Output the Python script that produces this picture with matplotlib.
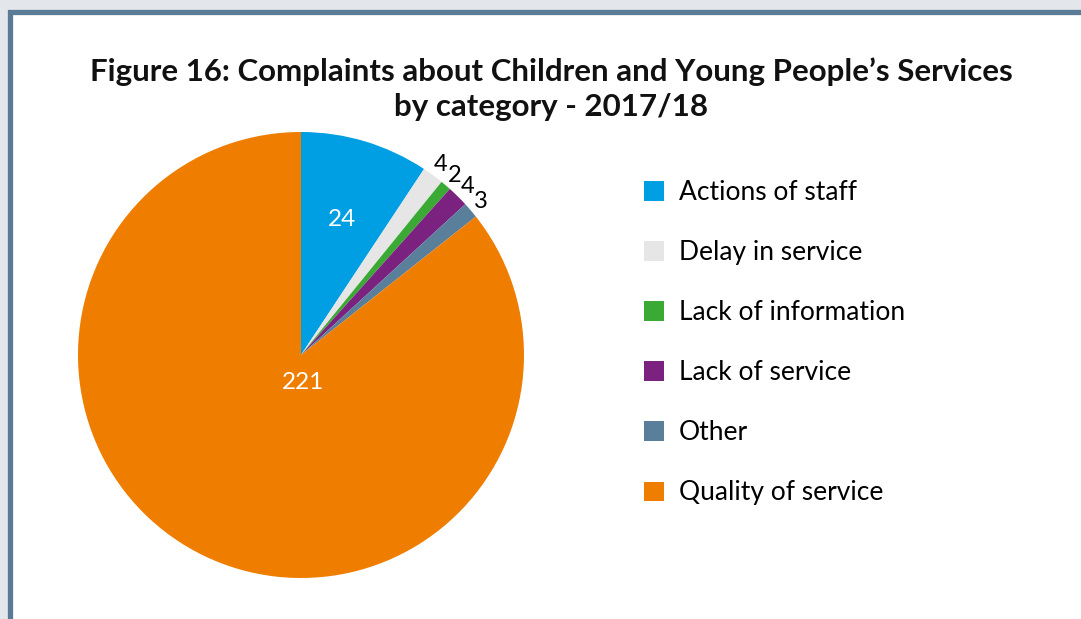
import matplotlib
matplotlib.use("Agg")
import matplotlib.pyplot as plt
from matplotlib.patches import Rectangle
import numpy as np

categories = ["Actions of staff", "Delay in service", "Lack of information",
              "Lack of service", "Other", "Quality of service"]
counts = [24, 4, 2, 4, 3, 221]
colours = ["#009fe3", "#e6e6e6", "#3aaa35", "#7b2281", "#5a7f9b", "#ef7d00"]

plt.rcParams["font.family"] = ["Lato", "DejaVu Sans"]

W, H = 1081, 619
fig = plt.figure(figsize=(W / 100, H / 100), dpi=100)
fig.patch.set_facecolor("#e3e6eb")

# white panel with the blue-grey frame
fig.add_artist(Rectangle((10 / W, -0.5), 2, 1.5 - 12 / H, transform=fig.transFigure,
                         facecolor="white", edgecolor="#5a7b95", linewidth=3.8, zorder=0))

fig.text(551 / W, 1 - 72 / H, "Figure 16: Complaints about Children and Young People\u2019s Services",
         ha="center", va="center", fontsize=22.5, fontweight="bold", color="#111111")
fig.text(551 / W, 1 - 107 / H, "by category - 2017/18",
         ha="center", va="center", fontsize=22.5, fontweight="bold", color="#111111")

cx, cy, r = 301, H - 355, 223
ax = fig.add_axes([(cx - r) / W, (cy - r) / H, 2 * r / W, 2 * r / H])

small = [str(c) if c < 20 else "" for c in counts]
wedges, texts = ax.pie(counts, colors=colours, startangle=90, counterclock=False,
                       labels=small, labeldistance=1.06,
                       wedgeprops=dict(linewidth=0),
                       textprops=dict(fontsize=17, color="black"))
for t in texts:
    t.set_ha("center")
    t.set_va("center")

# values printed inside the two big slices
w0 = wedges[0]
mid = np.deg2rad((w0.theta1 + w0.theta2) / 2)
ax.text(0.635 * np.cos(mid), 0.635 * np.sin(mid), str(counts[0]),
        ha="center", va="center", fontsize=17.5, color="white")
ax.text(0.01, -0.125, str(counts[-1]), ha="center", va="center", fontsize=17.5, color="white")

ax.set_xlim(-1, 1)
ax.set_ylim(-1, 1)
ax.set_aspect("equal")
ax.axis("off")

fig.legend(wedges, categories, loc="upper left", bbox_to_anchor=(644 / W, 1 - 180 / H),
           frameon=False, fontsize=19, handlelength=0.76, handleheight=0.76,
           handletextpad=0.55, labelspacing=1.33, borderaxespad=0, borderpad=0)

fig.savefig("out.png", dpi=100, facecolor=fig.get_facecolor())
